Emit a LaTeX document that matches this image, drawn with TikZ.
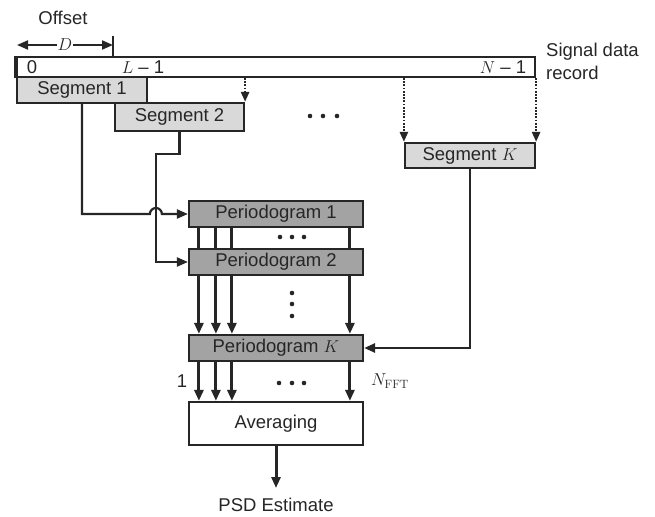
\documentclass[tikz,border=0pt]{standalone}
\usepackage[no-math]{fontspec}
\setmainfont{Liberation Sans}
\usepackage{xcolor}
\usetikzlibrary{calc,arrows.meta,positioning}
\definecolor{linec}{HTML}{262626}
\definecolor{segc}{HTML}{D9D9D9}
\definecolor{perc}{HTML}{A3A3A3}
\tikzset{
  ar/.style={-{Triangle[length=11pt,width=9pt]},line width=3pt,linec},
  dar/.style={-{Triangle[length=10pt,width=8pt]},line width=2.4pt,dash pattern=on 1.8pt off 1.4pt,linec},
  ln/.style={line width=3pt,linec},
  box/.style={draw=linec,line width=2.2pt,inner sep=0pt,text=linec,font=\fontsize{18.5}{22}\selectfont},
  seg/.style={box,fill=segc,minimum width=130pt,minimum height=26pt},
  per/.style={box,fill=perc,minimum width=174pt,minimum height=26pt},
  lbl/.style={inner sep=0pt,text=linec,font=\fontsize{18.5}{23}\selectfont}
}

\begin{document}
\begin{tikzpicture}[x=1pt,y=-1pt]
\useasboundingbox (0,0) rectangle (655,516);
% data record and offset
\node[lbl] (offset) at (63,18) {Offset};
\coordinate (d0) at (17,45);
\coordinate (d1) at (113,45);
\draw[linec,line width=2pt,{Triangle[length=11pt,width=9pt]}-{Triangle[length=11pt,width=9pt]}] (d0) -- (d1)
  node[midway,fill=white,inner sep=1pt,text=linec,font=\fontsize{18.5}{22}\selectfont]{$D$};
\draw[linec,line width=2pt] (113,36) -- (113,56);
\node[box,minimum width=518pt,minimum height=20pt] (record) at (276,67) {};
\draw[linec,line width=4pt] (record.north west) -- (record.south west);
\node[lbl] (n0) at (32,67) {0};
\node[lbl] (nL) at (143,67) {$L$ -- 1};
\node[lbl] (nN) at (503,67) {$N$ -- 1};
\node[lbl,anchor=west,align=left] (sig) at (546,61) {Signal data\\record};
% segments
\node[seg] (seg1) at (82,90) {Segment 1};
\node[seg,minimum width=129pt,minimum height=28pt] (seg2) at (179.5,117) {Segment 2};
\node[seg,minimum height=25pt] (segK) at (470,155.5) {Segment $K$};
\draw[dar] (seg2.north east |- record.south) -- (seg2.north east);
\draw[dar] (segK.north west |- record.south) -- (segK.north west);
\draw[dar] (segK.north east |- record.south) -- (segK.north east);
\foreach \x in {310,323,337} \fill[linec] (\x,116) circle (2.3pt);
% periodograms
\node[per] (per1) at (276,214) {Periodogram 1};
\node[per] (per2) at (276,262) {Periodogram 2};
\node[per] (perK) at (276,348) {Periodogram $K$};
\node[box,minimum width=174pt,minimum height=43pt] (avg) at (276,423.5) {Averaging};
\draw[ar,line width=2.2pt] (seg1.south) |- ([xshift=-38pt]per1.west) arc[start angle=180,end angle=0,radius=6pt] -- (per1.west);
\draw[ar,line width=2.2pt] (seg2.south) -- ++(0,22) -| ([xshift=-32pt]per2.west) -- (per2.west);
\draw[ar,line width=2.6pt] (segK.south) |- (perK.east);
\foreach \dx in {11,28,44,162}{
  \draw[ln] ([xshift=\dx pt]per1.south west) -- ([xshift=\dx pt]per2.north west);
  \draw[ar] ([xshift=\dx pt]per2.south west) -- ([xshift=\dx pt]perK.north west);
  \draw[ar] ([xshift=\dx pt]perK.south west) -- ([xshift=\dx pt]avg.north west);
}
\foreach \x in {280,292,304} \fill[linec] (\x,237) circle (2.3pt);
\foreach \y in {293,304,316} \fill[linec] (292,\y) circle (2.3pt);
\foreach \x in {279,292,304} \fill[linec] (\x,383) circle (2.3pt);
\node[lbl] (one) at (182,381) {1};
\node[lbl] (nfft) at (390,381) {$N_{\mathrm{FFT}}$};
% output
\node[lbl] (psd) at (276,505) {PSD Estimate};
\draw[ar] (avg.south) -- (psd.north) [shorten >=10pt];
\end{tikzpicture}
\end{document}
